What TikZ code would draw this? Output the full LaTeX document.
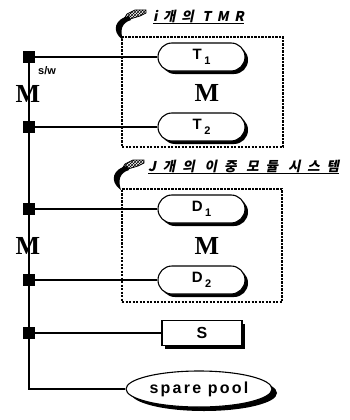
\documentclass[tikz,border=0pt]{standalone}
\usepackage{fontspec}
\setmainfont{Liberation Sans}
\newfontfamily\mfont{Liberation Serif}
\newfontfamily\krfont{Noto Sans CJK KR}[FakeSlant=0.2,LetterSpace=42]
\newfontfamily\krfontw{Noto Sans CJK KR}[FakeSlant=0.2,LetterSpace=51]
\newfontfamily\spfont{Liberation Sans}[LetterSpace=14]
\usetikzlibrary{shapes.misc,shapes.geometric,shadows,patterns}
\begin{document}
\begin{tikzpicture}[x=1pt,y=-1pt,
  sq/.style={fill=black,minimum size=12pt,inner sep=0pt},
  shad/.style={drop shadow={shadow xshift=3pt,shadow yshift=-3pt,fill=black,opacity=1}},
  pill/.style={rounded rectangle,draw,line width=1.1pt,fill=white,minimum width=87pt,minimum height=28pt,inner sep=0pt,shad,font=\bfseries\fontsize{15}{15}\selectfont},
  dotbox/.style={draw,line width=2.4pt,dash pattern=on 2.2pt off 1.3pt,inner sep=0pt},
  bigM/.style={font=\mfont\bfseries\fontsize{26}{26}\selectfont,inner sep=0pt},
  krlbl/.style={font=\krfont\bfseries\fontsize{13.5}{13.5}\selectfont,inner sep=0pt,anchor=base west},
  krlblw/.style={font=\krfontw\bfseries\fontsize{13.5}{13.5}\selectfont,inner sep=0pt,anchor=base west},
  conn/.style={line width=1.1pt},
  swoosh/.style={fill=black},
  tail/.style={pattern=crosshatch,draw=black,line width=0.8pt}
]
\useasboundingbox (0,0) rectangle (350,420);

% dotted group boxes
\node[dotbox,minimum width=161pt,minimum height=110pt] (B1) at (202.5,92) {};
\node[dotbox,minimum width=160pt,minimum height=113pt] (B2) at (202,245.5) {};

% switch squares
\node[sq] (s1) at (29,57) {};
\node[sq] (s2) at (29,127) {};
\node[sq] (s3) at (29,209) {};
\node[sq] (s4) at (29,280) {};
\node[sq] (s5) at (29,333) {};

% modules
\node[pill] (T1) at (201.5,57) {T\,\raisebox{-0.3em}{\fontsize{11}{11}\selectfont 1}};
\node[pill] (T2) at (201.5,127) {T\,\raisebox{-0.3em}{\fontsize{11}{11}\selectfont 2}};
\node[pill] (D1) at (201.5,209) {D\,\raisebox{-0.3em}{\fontsize{11}{11}\selectfont 1}};
\node[pill] (D2) at (201.5,280) {D\,\raisebox{-0.3em}{\fontsize{11}{11}\selectfont 2}};
\node[draw,line width=1.1pt,fill=white,minimum width=80pt,minimum height=25pt,inner sep=0pt,shad,font=\bfseries\fontsize{16}{16}\selectfont] (S) at (202,333) {S};
\node[ellipse,draw,line width=1.1pt,fill=white,minimum width=146pt,minimum height=36pt,inner sep=0pt,
  drop shadow={shadow xshift=5pt,shadow yshift=-4pt,fill=black,opacity=1},font=\spfont\bfseries\fontsize{16}{16}\selectfont] (sp) at (199,389) {spare pool};

% connectors
\draw[line width=1.3pt] (s1.center) |- (sp.west);
\draw[conn] (s1) -- (T1);
\draw[conn] (s2) -- (T2);
\draw[conn] (s3) -- (D1);
\draw[conn] (s4) -- (D2);
\draw[conn] (s5) -- (S);

% texts
\node[font=\bfseries\fontsize{11}{11}\selectfont,inner sep=0pt] (sw) at (47,71) {s/w};
\node[bigM] (M1) at (28,94) {M};
\node[bigM] (M2) at (28,246) {M};
\node[bigM] (M3) at (207,93) {M};
\node[bigM] (M4) at (207,246) {M};

\node[krlbl] (L1) at (153,21.5) {i개의 TMR};
\draw[line width=1pt] ([yshift=-2pt]L1.base west) -- ([yshift=-2pt]L1.base east);
\node[krlblw] (L2) at (148,171) {J개의 이중 모듈 시스템};
\draw[line width=1pt] ([yshift=-2.5pt]L2.base west) -- ([yshift=-2.5pt]L2.base east);

% swoosh arrows
\foreach \dx/\dy in {0/0,-2/150}{
\begin{scope}[shift={(\dx,\dy)}]
\path[tail] (146,10) -- (135,10) -- (127,14) -- (124,19) -- (130,19) -- (140,16) -- (146,13) -- cycle;
\path[swoosh] (129,16) .. controls (116,18) and (110,31) .. (123,40) .. controls (120,31) and (121,23) .. (131,20) -- cycle;
\end{scope}}
\end{tikzpicture}
\end{document}
